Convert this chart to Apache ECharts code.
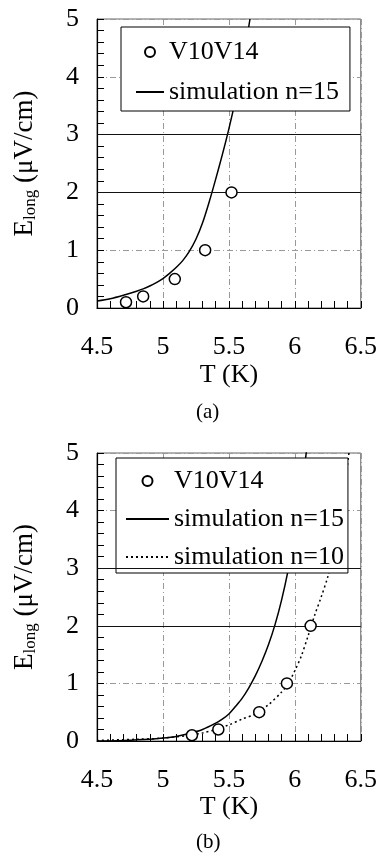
<!DOCTYPE html>
<html>
<head>
<meta charset="utf-8">
<script src="https://cdn.jsdelivr.net/npm/echarts@6/dist/echarts.min.js"></script>
<style>
  html, body { margin: 0; background: #fff; }
  #chart-dom { width: 380px; height: 858px; }
</style>
</head>
<body>
<div id="chart-dom"></div>
<script>
// panel (a): measured points + simulation n=15
const measT_a = [4.72, 4.85, 5.09, 5.32, 5.52];
const measE_a = [0.1, 0.2, 0.5, 1.0, 2.0];
const sim15T_a = [4.5, 4.6, 4.7, 4.8, 4.85, 4.9, 4.95, 5.0, 5.05, 5.1, 5.15, 5.2, 5.25, 5.3, 5.35, 5.4, 5.45, 5.5, 5.55, 5.6, 5.66];
const sim15E_a = [0.12, 0.16, 0.22, 0.29, 0.33, 0.38, 0.44, 0.51, 0.6, 0.7, 0.82, 0.98, 1.19, 1.47, 1.83, 2.23, 2.65, 3.1, 3.6, 4.17, 5.0];

// panel (b): measured points + simulation n=15 and n=10
const measT_b = [5.22, 5.42, 5.73, 5.94, 6.12];
const measE_b = [0.1, 0.2, 0.5, 1.0, 2.0];
const sim15T_b = [4.5, 4.7, 4.9, 5.0, 5.1, 5.2, 5.3, 5.4, 5.45, 5.5, 5.55, 5.6, 5.65, 5.7, 5.75, 5.8, 5.85, 5.9, 5.95, 6.0, 6.05, 6.1];
const sim15E_b = [0, 0.01, 0.03, 0.05, 0.08, 0.13, 0.2, 0.31, 0.38, 0.47, 0.6, 0.74, 0.92, 1.13, 1.38, 1.67, 2.02, 2.45, 2.97, 3.6, 4.35, 5.25];
const sim10T_b = [4.5, 4.8, 5.0, 5.2, 5.3, 5.4, 5.5, 5.6, 5.7, 5.8, 5.9, 5.95, 6.0, 6.05, 6.1, 6.15, 6.2, 6.25, 6.3, 6.35, 6.4, 6.43];
const sim10E_b = [0.01, 0.03, 0.05, 0.1, 0.14, 0.2, 0.28, 0.38, 0.47, 0.63, 0.85, 1.0, 1.22, 1.48, 1.82, 2.18, 2.5, 2.85, 3.3, 3.95, 4.8, 5.4];

const tMin = 4.5, tMax = 6.5, tStep = 0.5;
const eMin = 0, eMax = 5, eStep = 1;
const panelLabels = ['(a)', '(b)'];
const legendNames = ['V10V14', 'simulation n=15', 'simulation n=10'];

const FONT = 'Liberation Serif';
const pairs = (xs, ys) => xs.map((x, i) => [x, ys[i]]);

const myChart = echarts.init(document.getElementById('chart-dom'));

function xAx(idx, gap) {
  return {
    type: 'value', gridIndex: idx, min: tMin, max: tMax, interval: tStep,
    name: 'T (K)', nameLocation: 'middle', nameGap: gap,
    nameTextStyle: { fontFamily: FONT, fontSize: 26, color: '#000' },
    axisLine: { lineStyle: { color: '#000', width: 1.2 } },
    axisTick: { show: true, inside: true, length: 7, lineStyle: { color: '#000' } },
    minorTick: { show: true, splitNumber: 5, length: 7, lineStyle: { color: '#000' } },
    axisLabel: { fontFamily: FONT, fontSize: 26, color: '#000', margin: 26 },
    splitLine: { show: true, lineStyle: { color: '#999', type: [6, 3, 1, 3], width: 1 } }
  };
}
function yAx(idx) {
  return {
    type: 'value', gridIndex: idx, min: eMin, max: eMax, interval: eStep,
    name: 'E{s|long} (μV/cm)', nameLocation: 'middle', nameGap: 58,
    nameTextStyle: {
      fontFamily: FONT, fontSize: 27, color: '#000',
      rich: { s: { fontFamily: FONT, fontSize: 17, color: '#000', padding: [12, 0, 0, 0] } }
    },
    axisLine: { lineStyle: { color: '#000', width: 1.2 } },
    axisTick: { show: true, inside: true, length: 7, lineStyle: { color: '#000' } },
    minorTick: { show: true, splitNumber: 5, length: 7, lineStyle: { color: '#000' } },
    axisLabel: { fontFamily: FONT, fontSize: 26, color: '#000', margin: 18 },
    splitLine: { show: true, lineStyle: { color: '#999', type: [6, 3, 1, 3], width: 1 } }
  };
}

const darkLines = {
  silent: true, symbol: 'none', label: { show: false },
  lineStyle: { color: '#111', type: 'solid', width: 1 },
  data: [{ yAxis: 2 }, { yAxis: 3 }]
};

function pointSeries(idx, xs, ys) {
  return {
    name: legendNames[0], type: 'scatter', xAxisIndex: idx, yAxisIndex: idx,
    data: pairs(xs, ys), symbol: 'circle', symbolSize: 11, z: 5,
    itemStyle: { color: '#fff', borderColor: '#000', borderWidth: 1.5, opacity: 1 }
  };
}
function simSeries(idx, name, xs, ys, dash, mark) {
  const s = {
    name: name, type: 'line', xAxisIndex: idx, yAxisIndex: idx,
    data: pairs(xs, ys), showSymbol: false, symbol: 'none',
    smooth: 0.3, clip: true,
    itemStyle: { color: '#000' },
    lineStyle: { color: '#000', width: 1.5, type: dash }
  };
  if (mark) s.markLine = darkLines;
  return s;
}

function legendAt(left, top, names, iw, pad, gap) {
  return {
    orient: 'vertical', left: left, top: top,
    data: names.map((n, i) => i === 0 ? { name: n } : { name: n, itemStyle: { opacity: 0 } }),
    backgroundColor: '#fff', borderColor: '#000', borderWidth: 1, borderRadius: 0,
    padding: pad, itemGap: gap, itemWidth: iw, itemHeight: 10,
    textStyle: { fontFamily: FONT, fontSize: 26, color: '#000' },
    selectedMode: false
  };
}

const option = {
  animation: false,
  backgroundColor: '#fff',
  grid: [
    { left: 97, top: 19, width: 265, height: 289, show: true, borderColor: '#666', borderWidth: 1 },
    { left: 97, top: 453, width: 265, height: 288, show: true, borderColor: '#666', borderWidth: 1 }
  ],
  xAxis: [xAx(0, 54), xAx(1, 51)],
  yAxis: [yAx(0), yAx(1)],
  legend: [
    legendAt(121, 27, legendNames.slice(0, 2), 28, [12, 11, 6, 14], 14),
    legendAt(116, 458, legendNames, 43, [10, 4, 3, 9], 12)
  ],
  graphic: [
    { type: 'text', left: 196, top: 402, style: { text: panelLabels[0], font: '21px Liberation Serif', fill: '#000' } },
    { type: 'text', left: 196, top: 832, style: { text: panelLabels[1], font: '21px Liberation Serif', fill: '#000' } }
  ],
  series: [
    simSeries(0, legendNames[1], sim15T_a, sim15E_a, 'solid', true),
    pointSeries(0, measT_a, measE_a),
    simSeries(1, legendNames[1], sim15T_b, sim15E_b, 'solid', true),
    simSeries(1, legendNames[2], sim10T_b, sim10E_b, [2, 3], false),
    pointSeries(1, measT_b, measE_b)
  ]
};
myChart.setOption(option, true);
</script>
</body>
</html>
